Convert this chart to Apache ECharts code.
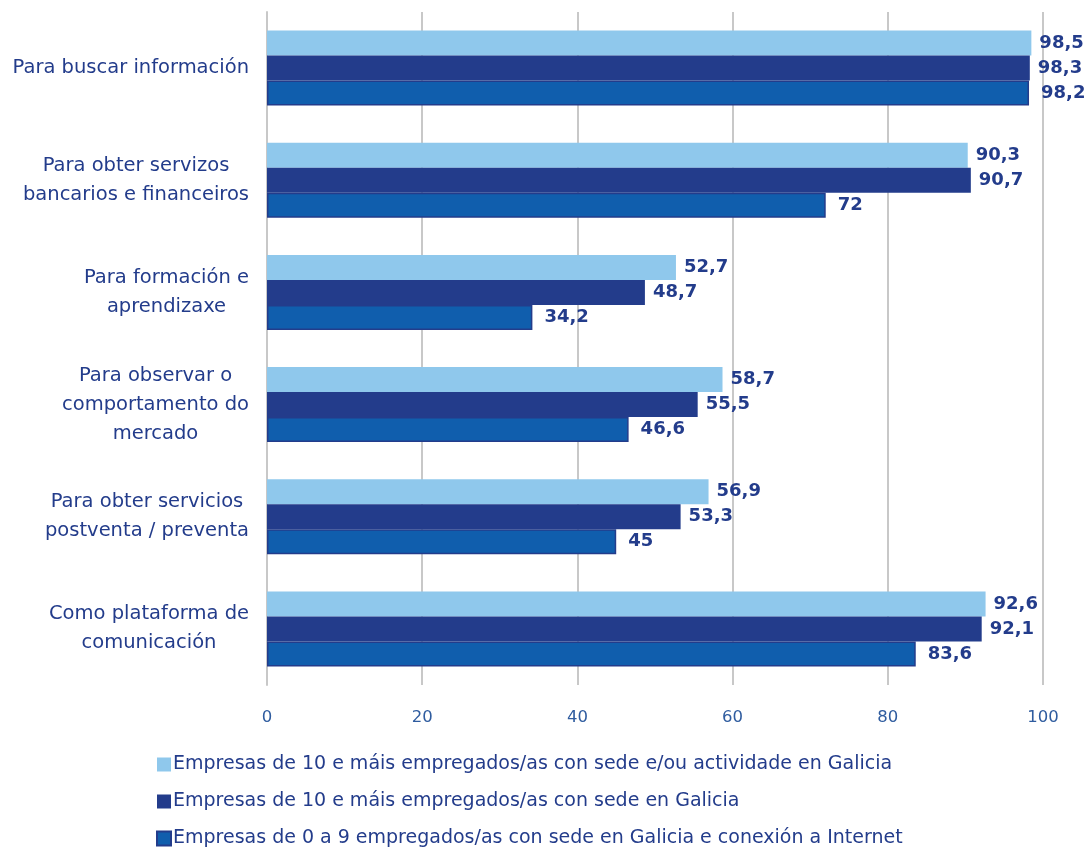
<!DOCTYPE html>
<html>
<head>
<meta charset="utf-8">
<script src="https://cdn.jsdelivr.net/npm/echarts@6/dist/echarts.min.js"></script>
<style>html,body{margin:0;padding:0;background:#fff;}#chart{width:1088px;height:847px;}</style>
</head>
<body>
<div id="chart"></div>
<script>
const categories = [
  "Para buscar información",
  "Para obter servizos\nbancarios e financeiros",
  "Para formación e\naprendizaxe",
  "Para observar o\ncomportamento do\nmercado",
  "Para obter servicios\npostventa / preventa",
  "Como plataforma de\ncomunicación"
];
const seriesNames = [
  "Empresas de 10 e máis empregados/as con sede e/ou actividade en Galicia",
  "Empresas de 10 e máis empregados/as con sede en Galicia",
  "Empresas de 0 a 9 empregados/as con sede en Galicia e conexión a Internet"
];
const s1 = [98.5, 90.3, 52.7, 58.7, 56.9, 92.6];
const s2 = [98.3, 90.7, 48.7, 55.5, 53.3, 92.1];
const s3 = [98.2, 72, 34.2, 46.6, 45, 83.6];
const xTicks = [0, 20, 40, 60, 80, 100];

const FONT = "DejaVu Sans";
const TXT = "#233C8B";
const colors = ["#8FC8EC", "#233C8B", "#105EAD"];
const fmt = v => String(v).replace('.', ',');

const chart = echarts.init(document.getElementById('chart'), null, {renderer: 'canvas'});
function mkSeries(name, data, i, dist) {
  return {
    name: name, type: 'bar', data: data,
    barWidth: 25, barGap: '0%',
    itemStyle: i === 2 ? {color: colors[i], borderColor: '#233C8B', borderWidth: 1.5} : {color: colors[i]},
    label: {
      show: true, position: 'right', distance: dist,
      formatter: p => fmt(p.value),
      fontFamily: FONT, fontSize: 18, fontWeight: 'bold', color: TXT
    }
  };
}
chart.setOption({
  animation: false,
  color: colors,
  grid: {left: 267, right: 45, top: 12, bottom: 162, containLabel: false},
  xAxis: {
    type: 'value', min: 0, max: 100, interval: 20,
    axisLine: {show: false}, axisTick: {show: false},
    splitLine: {show: true, lineStyle: {color: '#C8C8C8', width: 2}},
    axisLabel: {margin: 24, fontFamily: FONT, fontSize: 16.5, color: '#2F5C9F',
      formatter: v => xTicks.includes(v) ? String(v) : ''}
  },
  yAxis: {
    type: 'category', data: categories, inverse: true,
    axisLine: {show: true, lineStyle: {color: '#C8C8C8', width: 2}},
    axisTick: {show: false},
    axisLabel: {
      margin: 18, align: 'right',
      fontFamily: FONT, fontSize: 19.5, color: TXT, lineHeight: 29,
      formatter: v => v.split('\n').map(l => '{c|' + l + '}').join('\n'),
      rich: {c: {align: 'center', fontFamily: FONT, fontSize: 19.5, color: TXT, lineHeight: 29}}
    }
  },
  legend: {
    orient: 'vertical', left: 151, top: 750, height: 150,
    itemWidth: 14, itemHeight: 14, itemGap: 18,
    icon: 'rect',
    textStyle: {fontFamily: FONT, fontSize: 19, color: TXT, padding: [0, 0, 0, -3]},
    data: seriesNames
  },
  series: [
    mkSeries(seriesNames[0], s1, 0, 8),
    mkSeries(seriesNames[1], s2, 1, 8),
    mkSeries(seriesNames[2], s3, 2, 12)
  ]
});
</script>
</body>
</html>
